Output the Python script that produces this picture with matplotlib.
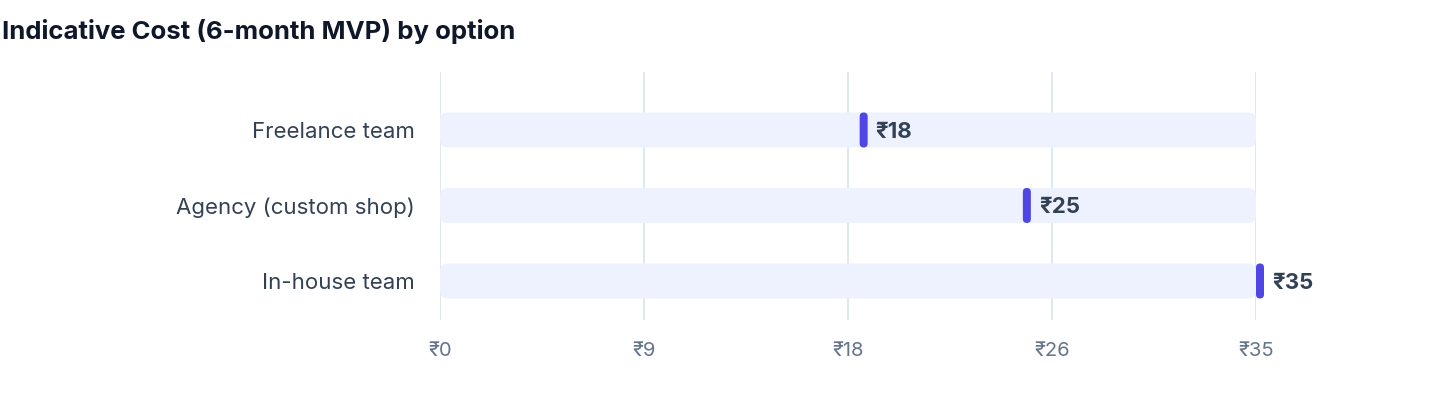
import matplotlib
matplotlib.use("Agg")
import matplotlib.pyplot as plt
from matplotlib.patches import FancyBboxPatch

plt.rcParams['font.family'] = ['Inter', 'DejaVu Sans']

options = ["Freelance team", "Agency (custom shop)", "In-house team"]
costs = [18, 25, 35]
x_max = 35
tick_vals = [0, 8.75, 17.5, 26.25, 35]
tick_labels = ["₹0", "₹9", "₹18", "₹26", "₹35"]

fig = plt.figure(figsize=(14.4, 4.08), dpi=100)
ax = fig.add_axes([440 / 1440, 1 - 320 / 408, 816 / 1440, 248 / 408])
ax.set_xlim(0, x_max)
ax.set_ylim(2.517, -0.768)

# pixel -> data conversions
px_x = x_max / 816
px_y = 1 / 75.5
aspect = px_y / px_x

bar_h = 35 * px_y
for i, (name, val) in enumerate(zip(options, costs)):
    track = FancyBboxPatch((0, i - bar_h / 2), x_max, bar_h,
                           boxstyle="round,pad=0,rounding_size=%f" % (8 * px_x),
                           mutation_aspect=aspect, fc="#EEF2FF", ec="none", zorder=2)
    ax.add_patch(track)
    mk = FancyBboxPatch((val, i - bar_h / 2), 8 * px_x, bar_h,
                        boxstyle="round,pad=0,rounding_size=%f" % (4 * px_x),
                        mutation_aspect=aspect, fc="#4F46E5", ec="none", zorder=4,
                        clip_on=False)
    ax.add_patch(mk)
    ax.text(val + 16 * px_x, i + 2 * px_y, "₹%d" % val, va="center", ha="left",
            fontsize=16, fontweight="bold", color="#334155", zorder=5,
            clip_on=False)

for t in tick_vals:
    ax.axvline(t, color="#E2E8F0", lw=1.5, zorder=1)

ax.set_yticks(range(len(options)))
ax.set_yticklabels(options, fontsize=16, color="#334155")
ax.set_xticks(tick_vals)
ax.set_xticklabels(tick_labels, fontsize=14.5, color="#64748B")
ax.tick_params(axis="y", length=0, pad=18)
ax.tick_params(axis="x", length=0, pad=16)
for s in ax.spines.values():
    s.set_visible(False)

fig.text(2 / 1440, 1 - 31 / 408, "Indicative Cost (6-month MVP) by option",
         fontsize=18.5, fontweight="bold", color="#0F172A", va="center", ha="left")

fig.savefig("out.png", dpi=100, facecolor="white")
